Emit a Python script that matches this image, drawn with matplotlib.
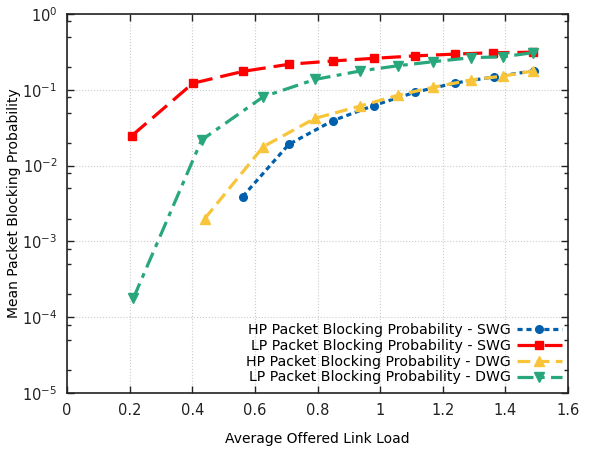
import matplotlib
matplotlib.use('Agg')
import matplotlib.pyplot as plt
from matplotlib.ticker import LogLocator, NullFormatter
import numpy as np

# values
x_swg_hp = [0.561, 0.708, 0.848, 0.979, 1.112, 1.240, 1.364, 1.490]
y_swg_hp = [0.0039, 0.019, 0.039, 0.062, 0.093, 0.123, 0.148, 0.178]

x_swg_lp = [0.207, 0.402, 0.562, 0.708, 0.848, 0.979, 1.110, 1.240, 1.362, 1.488]
y_swg_lp = [0.0248, 0.122, 0.175, 0.217, 0.240, 0.260, 0.280, 0.296, 0.309, 0.313]

x_dwg_hp = [0.440, 0.627, 0.792, 0.936, 1.058, 1.170, 1.290, 1.394, 1.488]
y_dwg_hp = [0.0020, 0.0178, 0.042, 0.061, 0.085, 0.108, 0.135, 0.152, 0.177]

x_dwg_lp = [0.212, 0.430, 0.627, 0.792, 0.936, 1.058, 1.170, 1.290, 1.394, 1.488]
y_dwg_lp = [0.000178, 0.0218, 0.081, 0.137, 0.177, 0.208, 0.235, 0.265, 0.273, 0.309]

labels = ['HP Packet Blocking Probability - SWG',
          'LP Packet Blocking Probability - SWG',
          'HP Packet Blocking Probability - DWG',
          'LP Packet Blocking Probability - DWG']
xticklabels = ['0', '0.2', '0.4', '0.6', '0.8', '1', '1.2', '1.4', '1.6']

fig = plt.figure(figsize=(5.94, 4.51), dpi=100)
ax = fig.add_axes([67 / 594, 1 - 393 / 451, 501 / 594, 379 / 451])

lw = 2.3
ax.plot(x_swg_hp, y_swg_hp, color='#0060ad', lw=lw, dashes=(1.6, 1.2),
        marker='o', ms=5.5, label=labels[0])
ax.plot(x_swg_lp, y_swg_lp, color='#ff0000', lw=lw, dashes=(6, 2.5),
        marker='s', ms=5.5, label=labels[1])
ax.plot(x_dwg_hp, y_dwg_hp, color='#f8c53a', lw=lw, dashes=(4, 2),
        marker='^', ms=6.5, label=labels[2])
ax.plot(x_dwg_lp, y_dwg_lp, color='#27a77b', lw=lw, dashes=(5, 2, 1.5, 2),
        marker='v', ms=6.5, label=labels[3])

ax.set_yscale('log')
ax.set_xlim(0, 1.6)
ax.set_ylim(1e-5, 1)
ax.set_xticks(np.arange(0, 1.61, 0.2))
ax.set_xticklabels(xticklabels)
ax.yaxis.set_major_locator(LogLocator(base=10, numticks=10))
ax.yaxis.set_minor_locator(LogLocator(base=10, subs=(2, 5, 8), numticks=20))
ax.yaxis.set_minor_formatter(NullFormatter())

ax.tick_params(which='both', direction='in', top=True, right=True,
               labelsize=10.5, colors='#222222')
ax.tick_params(which='major', length=5, width=1, pad=7)
ax.tick_params(which='minor', length=3, width=1)
for s in ax.spines.values():
    s.set_linewidth(1.2)
    s.set_color('#222222')

ax.grid(True, which='major', ls=':', lw=0.8, color='#cccccc')

ax.set_xlabel('Average Offered Link Load', fontsize=10, labelpad=10)
ax.set_ylabel('Mean Packet Blocking Probability', fontsize=10, labelpad=1)

ax.legend(loc='lower right', bbox_to_anchor=(1.005, 0.0), frameon=False,
          markerfirst=False, fontsize=10.2, handlelength=3.2, labelspacing=0.12,
          handletextpad=0.4, numpoints=1, borderaxespad=0.2)

fig.savefig('out.png', dpi=100)
